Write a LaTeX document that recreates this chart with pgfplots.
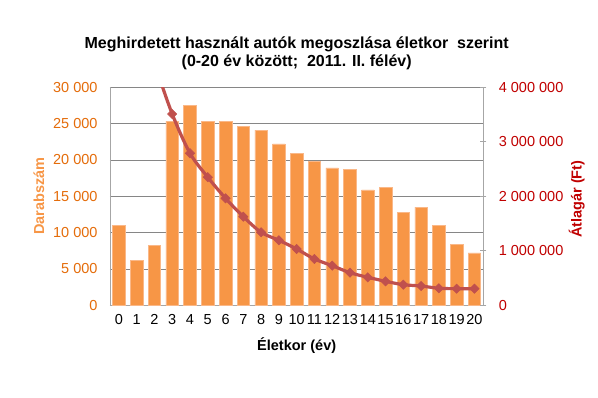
\documentclass[border=0pt]{standalone}
\usepackage{pgfplots}
\pgfplotsset{compat=1.18}
\usepackage{fontspec}
\setmainfont{Liberation Sans}
\usetikzlibrary{calc}
\definecolor{barfill}{HTML}{F79646}
\definecolor{baredge}{HTML}{FAB888}
\definecolor{linec}{HTML}{C0504D}
\definecolor{lefttick}{HTML}{E46C0A}
\definecolor{leftlab}{HTML}{F79646}
\definecolor{rightc}{HTML}{C00000}
\definecolor{gridc}{HTML}{868686}
\definecolor{axisc}{HTML}{A6A6A6}
\begin{document}
\begin{tikzpicture}
\pgfplotsset{every axis/.append style={
  scale only axis, width=373.3pt, height=218pt, xmin=-0.5, xmax=20.5,
  /pgf/number format/assume math mode=true,
  /pgf/number format/fixed,
  /pgf/number format/precision=0,
  /pgf/number format/1000 sep={\ },
  scaled y ticks=false,
  tick label style={font=\fontsize{14.5}{16}\selectfont},
}}
\begin{axis}[name=ax1, at={(0,0)}, anchor=south west,
  ymin=0, ymax=30000, ytick={0,5000,10000,15000,20000,25000,30000},
  axis lines*=left,
  axis line style={axisc, line width=0.8pt},
  ymajorgrids, grid style={gridc, line width=0.8pt},
  xtick={0,...,20}, xticklabels={0,1,2,3,4,5,6,7,8,9,10,11,12,13,14,15,16,17,18,19,20},
  xtick style={draw=none}, ytick style={draw=none},
  yticklabel style={lefttick, xshift=-9pt},
  xticklabel style={black, yshift=-6pt},
]
\addplot[ybar, bar width=12.5pt, fill=barfill, draw=baredge, line width=0.5pt] coordinates {
(0,11000) (1,6200) (2,8250) (3,25300) (4,27500) (5,25300) (6,25300) (7,24600)
(8,24100) (9,22200) (10,20900) (11,19800) (12,18900) (13,18700) (14,15900)
(15,16200) (16,12800) (17,13500) (18,11000) (19,8400) (20,7200)};
\end{axis}
\begin{axis}[at={(0,0)}, anchor=south west,
  axis y line*=right, axis x line=none,
  ymin=0, ymax=4000000, ytick={0,1000000,2000000,3000000,4000000},
  y axis line style={axisc, line width=0.8pt},
  ytick style={axisc, line width=0.8pt},
  tick align=center, major tick length=6pt,
  yticklabel style={rightc, xshift=9pt},
]
\addplot[linec, line width=3.2pt, smooth, mark=square*, mark size=3.3pt,
  mark options={rotate=45, fill=linec, draw=linec, line width=0.5pt}] coordinates {
(0,6800000) (1,5500000) (2,4450000) (3,3510000) (4,2790000) (5,2350000)
(6,1963000) (7,1626000) (8,1339000) (9,1193000) (10,1033000) (11,850000)
(12,727000) (13,598000) (14,514000) (15,440000) (16,378000) (17,354000)
(18,312000) (19,305000) (20,305000)};
\end{axis}
\node[font=\bfseries\fontsize{16}{17.5}\selectfont, align=center] at ($(ax1.south west)+(186.7pt,252pt)$)
  {Meghirdetett használt autók megoszlása életkor\ \ szerint\\(0-20 év között;\ \ 2011. II. félév)};
\node[font=\bfseries\fontsize{14.5}{16}\selectfont] at ($(ax1.south west)+(186.7pt,-40pt)$) {Életkor (év)};
\node[font=\bfseries\fontsize{14.5}{16}\selectfont, text=leftlab, rotate=90] at ($(ax1.south west)+(-71pt,109pt)$) {Darabszám};
\node[font=\bfseries\fontsize{14.5}{16}\selectfont, text=rightc, rotate=90] at ($(ax1.south west)+(466.7pt,106pt)$) {Átlagár (Ft)};
\pgfresetboundingbox
\path[use as bounding box] ($(ax1.south west)+(-110pt,-92.7pt)$) rectangle ++(598pt,398pt);
\end{tikzpicture}
\end{document}
